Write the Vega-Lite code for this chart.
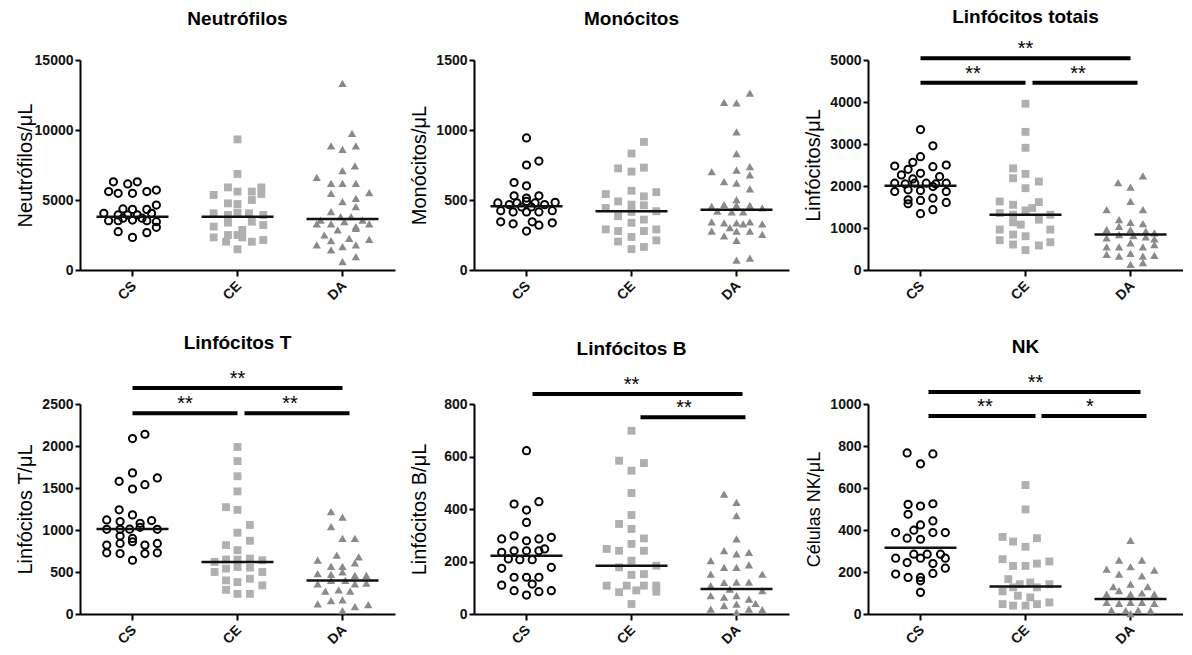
{
"$schema":"https://vega.github.io/schema/vega-lite/v6.json",
"background":"white",
"padding":{"left":15,"top":8,"right":0,"bottom":0},
"config":{
 "view":{"stroke":null},
 "font":"Liberation Sans",
 "axis":{"domainColor":"#000","domainWidth":2,"tickColor":"#000","tickWidth":2,"tickSize":5,"labelFont":"Liberation Sans","labelFontWeight":"bold","labelFontSize":14,"labelColor":"#111","titleFont":"Liberation Sans","titleFontWeight":"normal","titleFontSize":20,"titleColor":"#000","grid":false},
 "axisY":{"minExtent":39,"maxExtent":39,"titlePadding":6,"labelPadding":2},
 "axisX":{"tickSize":6},
 "title":{"fontSize":19,"fontWeight":"bold","font":"Liberation Sans","anchor":"middle","color":"#000"}
},
"datasets":{
"pts":[
{"panel":"N","group":"CS","slot":-2,"value":6300},{"panel":"N","group":"CS","slot":-0.5,"value":6150},{"panel":"N","group":"CS","slot":0.5,"value":6300},{"panel":"N","group":"CS","slot":-2.5,"value":5600},{"panel":"N","group":"CS","slot":-1.5,"value":5480},{"panel":"N","group":"CS","slot":0,"value":5480},{"panel":"N","group":"CS","slot":1.5,"value":5600},{"panel":"N","group":"CS","slot":2.5,"value":5710},{"panel":"N","group":"CS","slot":2.5,"value":4640},{"panel":"N","group":"CS","slot":-1,"value":4360},{"panel":"N","group":"CS","slot":0,"value":4330},{"panel":"N","group":"CS","slot":1.5,"value":4330},{"panel":"N","group":"CS","slot":-3,"value":4050},{"panel":"N","group":"CS","slot":-1.5,"value":3930},{"panel":"N","group":"CS","slot":-0.5,"value":3930},{"panel":"N","group":"CS","slot":0.5,"value":3930},{"panel":"N","group":"CS","slot":2,"value":4050},{"panel":"N","group":"CS","slot":-2.5,"value":3520},{"panel":"N","group":"CS","slot":-1.5,"value":3520},{"panel":"N","group":"CS","slot":0,"value":3570},{"panel":"N","group":"CS","slot":1.5,"value":3520},{"panel":"N","group":"CS","slot":2.5,"value":3450},{"panel":"N","group":"CS","slot":2.5,"value":3050},{"panel":"N","group":"CS","slot":-1.5,"value":2740},{"panel":"N","group":"CS","slot":1.5,"value":2670},{"panel":"N","group":"CS","slot":0,"value":2330},{"panel":"N","group":"CS","slot":-1,"value":3700},{"panel":"N","group":"CS","slot":1,"value":3700},
{"panel":"N","group":"CE","slot":0,"value":9330},{"panel":"N","group":"CE","slot":0,"value":6860},{"panel":"N","group":"CE","slot":-2.5,"value":5360},{"panel":"N","group":"CE","slot":-1,"value":5900},{"panel":"N","group":"CE","slot":0,"value":5600},{"panel":"N","group":"CE","slot":1.5,"value":5600},{"panel":"N","group":"CE","slot":2.5,"value":5900},{"panel":"N","group":"CE","slot":2.5,"value":5430},{"panel":"N","group":"CE","slot":-1,"value":4760},{"panel":"N","group":"CE","slot":0,"value":4710},{"panel":"N","group":"CE","slot":1.5,"value":5000},{"panel":"N","group":"CE","slot":-2.5,"value":4050},{"panel":"N","group":"CE","slot":-1,"value":3930},{"panel":"N","group":"CE","slot":0,"value":4100},{"panel":"N","group":"CE","slot":1.2,"value":4050},{"panel":"N","group":"CE","slot":2.7,"value":3930},{"panel":"N","group":"CE","slot":-2.5,"value":3100},{"panel":"N","group":"CE","slot":-1,"value":3380},{"panel":"N","group":"CE","slot":0.5,"value":2860},{"panel":"N","group":"CE","slot":1.5,"value":3450},{"panel":"N","group":"CE","slot":2.7,"value":3210},{"panel":"N","group":"CE","slot":-2.5,"value":2330},{"panel":"N","group":"CE","slot":-1,"value":2500},{"panel":"N","group":"CE","slot":0,"value":2500},{"panel":"N","group":"CE","slot":0.5,"value":2330},{"panel":"N","group":"CE","slot":2.7,"value":2140},{"panel":"N","group":"CE","slot":1.5,"value":2020},{"panel":"N","group":"CE","slot":-1.2,"value":2020},{"panel":"N","group":"CE","slot":0,"value":1480},
{"panel":"N","group":"DA","slot":0,"value":13330},{"panel":"N","group":"DA","slot":1,"value":9760},{"panel":"N","group":"DA","slot":-1.2,"value":8860},{"panel":"N","group":"DA","slot":0,"value":8620},{"panel":"N","group":"DA","slot":1.4,"value":8860},{"panel":"N","group":"DA","slot":1.3,"value":7430},{"panel":"N","group":"DA","slot":0,"value":7100},{"panel":"N","group":"DA","slot":-2.7,"value":6620},{"panel":"N","group":"DA","slot":-1.2,"value":6190},{"panel":"N","group":"DA","slot":0,"value":6190},{"panel":"N","group":"DA","slot":1.4,"value":6190},{"panel":"N","group":"DA","slot":2.8,"value":5520},{"panel":"N","group":"DA","slot":-1.2,"value":5480},{"panel":"N","group":"DA","slot":0,"value":4880},{"panel":"N","group":"DA","slot":1.4,"value":5120},{"panel":"N","group":"DA","slot":-1.2,"value":4170},{"panel":"N","group":"DA","slot":1.4,"value":4520},{"panel":"N","group":"DA","slot":-2.3,"value":3570},{"panel":"N","group":"DA","slot":-0.2,"value":3810},{"panel":"N","group":"DA","slot":0.9,"value":3810},{"panel":"N","group":"DA","slot":2.1,"value":3570},{"panel":"N","group":"DA","slot":-2.7,"value":3290},{"panel":"N","group":"DA","slot":-1.2,"value":3290},{"panel":"N","group":"DA","slot":0.2,"value":3450},{"panel":"N","group":"DA","slot":1.4,"value":3100},{"panel":"N","group":"DA","slot":2.8,"value":3290},{"panel":"N","group":"DA","slot":-1.9,"value":2500},{"panel":"N","group":"DA","slot":-0.5,"value":2860},{"panel":"N","group":"DA","slot":1.4,"value":2980},{"panel":"N","group":"DA","slot":-1.2,"value":2100},{"panel":"N","group":"DA","slot":0.7,"value":2260},{"panel":"N","group":"DA","slot":2.8,"value":2190},{"panel":"N","group":"DA","slot":-2.7,"value":1790},{"panel":"N","group":"DA","slot":-1.2,"value":1430},{"panel":"N","group":"DA","slot":0,"value":1670},{"panel":"N","group":"DA","slot":1.4,"value":1790},{"panel":"N","group":"DA","slot":1.4,"value":950},{"panel":"N","group":"DA","slot":0,"value":600},
{"panel":"M","group":"CS","slot":0,"value":943},{"panel":"M","group":"CS","slot":0,"value":750},{"panel":"M","group":"CS","slot":1.3,"value":778},{"panel":"M","group":"CS","slot":-1.3,"value":625},{"panel":"M","group":"CS","slot":0,"value":601},{"panel":"M","group":"CS","slot":-1.3,"value":530},{"panel":"M","group":"CS","slot":0,"value":514},{"panel":"M","group":"CS","slot":1.3,"value":530},{"panel":"M","group":"CS","slot":-3,"value":479},{"panel":"M","group":"CS","slot":-1.8,"value":467},{"panel":"M","group":"CS","slot":-1,"value":479},{"panel":"M","group":"CS","slot":0,"value":490},{"panel":"M","group":"CS","slot":0.9,"value":479},{"panel":"M","group":"CS","slot":1.9,"value":467},{"panel":"M","group":"CS","slot":3,"value":483},{"panel":"M","group":"CS","slot":-2.7,"value":424},{"panel":"M","group":"CS","slot":-1.4,"value":415},{"panel":"M","group":"CS","slot":0,"value":415},{"panel":"M","group":"CS","slot":1.3,"value":415},{"panel":"M","group":"CS","slot":2.7,"value":424},{"panel":"M","group":"CS","slot":-2.7,"value":344},{"panel":"M","group":"CS","slot":-1.4,"value":330},{"panel":"M","group":"CS","slot":0.6,"value":344},{"panel":"M","group":"CS","slot":1.3,"value":320},{"panel":"M","group":"CS","slot":2.7,"value":337},{"panel":"M","group":"CS","slot":0,"value":278},{"panel":"M","group":"CS","slot":-0.5,"value":450},{"panel":"M","group":"CS","slot":0.5,"value":450},
{"panel":"M","group":"CE","slot":1.3,"value":915},{"panel":"M","group":"CE","slot":0,"value":832},{"panel":"M","group":"CE","slot":-1.4,"value":726},{"panel":"M","group":"CE","slot":0,"value":703},{"panel":"M","group":"CE","slot":1.3,"value":731},{"panel":"M","group":"CE","slot":0,"value":566},{"panel":"M","group":"CE","slot":-2.7,"value":542},{"panel":"M","group":"CE","slot":1.3,"value":526},{"panel":"M","group":"CE","slot":2.6,"value":556},{"panel":"M","group":"CE","slot":-1.4,"value":490},{"panel":"M","group":"CE","slot":0,"value":467},{"panel":"M","group":"CE","slot":-2.7,"value":443},{"panel":"M","group":"CE","slot":1.3,"value":462},{"panel":"M","group":"CE","slot":2.6,"value":420},{"panel":"M","group":"CE","slot":-1.4,"value":384},{"panel":"M","group":"CE","slot":0,"value":415},{"panel":"M","group":"CE","slot":1.3,"value":360},{"panel":"M","group":"CE","slot":-2.7,"value":290},{"panel":"M","group":"CE","slot":-1.4,"value":278},{"panel":"M","group":"CE","slot":0,"value":337},{"panel":"M","group":"CE","slot":2.6,"value":290},{"panel":"M","group":"CE","slot":1.3,"value":278},{"panel":"M","group":"CE","slot":-1.4,"value":203},{"panel":"M","group":"CE","slot":0,"value":236},{"panel":"M","group":"CE","slot":2.6,"value":212},{"panel":"M","group":"CE","slot":1.3,"value":165},{"panel":"M","group":"CE","slot":0,"value":149},
{"panel":"M","group":"DA","slot":1.4,"value":1264},{"panel":"M","group":"DA","slot":-1.3,"value":1198},{"panel":"M","group":"DA","slot":0,"value":1193},{"panel":"M","group":"DA","slot":0,"value":986},{"panel":"M","group":"DA","slot":0,"value":832},{"panel":"M","group":"DA","slot":1.4,"value":738},{"panel":"M","group":"DA","slot":0,"value":714},{"panel":"M","group":"DA","slot":-2.6,"value":703},{"panel":"M","group":"DA","slot":-1.3,"value":632},{"panel":"M","group":"DA","slot":0,"value":620},{"panel":"M","group":"DA","slot":1.4,"value":679},{"panel":"M","group":"DA","slot":1.4,"value":580},{"panel":"M","group":"DA","slot":0,"value":502},{"panel":"M","group":"DA","slot":-2.6,"value":455},{"panel":"M","group":"DA","slot":-1.3,"value":467},{"panel":"M","group":"DA","slot":0,"value":462},{"panel":"M","group":"DA","slot":1.4,"value":462},{"panel":"M","group":"DA","slot":2.7,"value":443},{"panel":"M","group":"DA","slot":-2.6,"value":344},{"panel":"M","group":"DA","slot":-1.3,"value":337},{"panel":"M","group":"DA","slot":0,"value":337},{"panel":"M","group":"DA","slot":1.4,"value":344},{"panel":"M","group":"DA","slot":2.7,"value":330},{"panel":"M","group":"DA","slot":-2.6,"value":278},{"panel":"M","group":"DA","slot":-1.3,"value":243},{"panel":"M","group":"DA","slot":0,"value":278},{"panel":"M","group":"DA","slot":1.4,"value":278},{"panel":"M","group":"DA","slot":2.7,"value":255},{"panel":"M","group":"DA","slot":-2,"value":420},{"panel":"M","group":"DA","slot":-0.5,"value":415},{"panel":"M","group":"DA","slot":0.7,"value":415},{"panel":"M","group":"DA","slot":-0.7,"value":302},{"panel":"M","group":"DA","slot":0.7,"value":330},{"panel":"M","group":"DA","slot":0,"value":212},{"panel":"M","group":"DA","slot":0,"value":71},{"panel":"M","group":"DA","slot":1.4,"value":85},
{"panel":"LT","group":"CS","slot":0,"value":3344},{"panel":"LT","group":"CS","slot":1.3,"value":2957},{"panel":"LT","group":"CS","slot":0,"value":2697},{"panel":"LT","group":"CS","slot":-0.8,"value":2563},{"panel":"LT","group":"CS","slot":-2.7,"value":2476},{"panel":"LT","group":"CS","slot":-1.3,"value":2397},{"panel":"LT","group":"CS","slot":2.7,"value":2500},{"panel":"LT","group":"CS","slot":1.3,"value":2460},{"panel":"LT","group":"CS","slot":-2,"value":2263},{"panel":"LT","group":"CS","slot":0,"value":2303},{"panel":"LT","group":"CS","slot":2,"value":2224},{"panel":"LT","group":"CS","slot":-0.8,"value":2169},{"panel":"LT","group":"CS","slot":-2.7,"value":2066},{"panel":"LT","group":"CS","slot":-1.6,"value":2050},{"panel":"LT","group":"CS","slot":-0.6,"value":2066},{"panel":"LT","group":"CS","slot":0.6,"value":2066},{"panel":"LT","group":"CS","slot":1.6,"value":2050},{"panel":"LT","group":"CS","slot":2.7,"value":2066},{"panel":"LT","group":"CS","slot":-2.7,"value":1869},{"panel":"LT","group":"CS","slot":-1.3,"value":1908},{"panel":"LT","group":"CS","slot":0,"value":1893},{"panel":"LT","group":"CS","slot":1.3,"value":1987},{"panel":"LT","group":"CS","slot":2.7,"value":1869},{"panel":"LT","group":"CS","slot":-1.3,"value":1672},{"panel":"LT","group":"CS","slot":0,"value":1656},{"panel":"LT","group":"CS","slot":1.3,"value":1711},{"panel":"LT","group":"CS","slot":-1.3,"value":1577},{"panel":"LT","group":"CS","slot":2.7,"value":1609},{"panel":"LT","group":"CS","slot":1.3,"value":1435},{"panel":"LT","group":"CS","slot":0,"value":1341},
{"panel":"LT","group":"CE","slot":0,"value":3959},{"panel":"LT","group":"CE","slot":0,"value":3289},{"panel":"LT","group":"CE","slot":0,"value":2910},{"panel":"LT","group":"CE","slot":-1.3,"value":2421},{"panel":"LT","group":"CE","slot":-1.3,"value":2184},{"panel":"LT","group":"CE","slot":0,"value":2287},{"panel":"LT","group":"CE","slot":1.4,"value":2106},{"panel":"LT","group":"CE","slot":0,"value":1948},{"panel":"LT","group":"CE","slot":-2.7,"value":1632},{"panel":"LT","group":"CE","slot":-1.3,"value":1553},{"panel":"LT","group":"CE","slot":1.4,"value":1617},{"panel":"LT","group":"CE","slot":-2.7,"value":1356},{"panel":"LT","group":"CE","slot":-1.3,"value":1317},{"panel":"LT","group":"CE","slot":0,"value":1419},{"panel":"LT","group":"CE","slot":0.7,"value":1475},{"panel":"LT","group":"CE","slot":2.6,"value":1317},{"panel":"LT","group":"CE","slot":-2.7,"value":962},{"panel":"LT","group":"CE","slot":-1.3,"value":1135},{"panel":"LT","group":"CE","slot":-0.5,"value":1080},{"panel":"LT","group":"CE","slot":1.4,"value":1198},{"panel":"LT","group":"CE","slot":2.6,"value":962},{"panel":"LT","group":"CE","slot":-2.7,"value":710},{"panel":"LT","group":"CE","slot":-1.3,"value":844},{"panel":"LT","group":"CE","slot":0,"value":804},{"panel":"LT","group":"CE","slot":1.4,"value":584},{"panel":"LT","group":"CE","slot":2.6,"value":662},{"panel":"LT","group":"CE","slot":-1.3,"value":607},{"panel":"LT","group":"CE","slot":0,"value":473},
{"panel":"LT","group":"DA","slot":1.3,"value":2240},{"panel":"LT","group":"DA","slot":-1.3,"value":2082},{"panel":"LT","group":"DA","slot":0,"value":1972},{"panel":"LT","group":"DA","slot":0,"value":1632},{"panel":"LT","group":"DA","slot":-2.5,"value":1435},{"panel":"LT","group":"DA","slot":1.3,"value":1435},{"panel":"LT","group":"DA","slot":-1.2,"value":1199},{"panel":"LT","group":"DA","slot":0,"value":1136},{"panel":"LT","group":"DA","slot":1.3,"value":1104},{"panel":"LT","group":"DA","slot":-2.5,"value":962},{"panel":"LT","group":"DA","slot":-1.2,"value":1041},{"panel":"LT","group":"DA","slot":0,"value":962},{"panel":"LT","group":"DA","slot":1.6,"value":923},{"panel":"LT","group":"DA","slot":2.5,"value":883},{"panel":"LT","group":"DA","slot":-2.5,"value":765},{"panel":"LT","group":"DA","slot":-1.2,"value":844},{"panel":"LT","group":"DA","slot":0.3,"value":820},{"panel":"LT","group":"DA","slot":1.6,"value":789},{"panel":"LT","group":"DA","slot":2.5,"value":741},{"panel":"LT","group":"DA","slot":-2.5,"value":552},{"panel":"LT","group":"DA","slot":-1.2,"value":552},{"panel":"LT","group":"DA","slot":0,"value":647},{"panel":"LT","group":"DA","slot":1.3,"value":552},{"panel":"LT","group":"DA","slot":2.5,"value":607},{"panel":"LT","group":"DA","slot":-2.5,"value":371},{"panel":"LT","group":"DA","slot":-1.2,"value":331},{"panel":"LT","group":"DA","slot":0,"value":394},{"panel":"LT","group":"DA","slot":1.3,"value":331},{"panel":"LT","group":"DA","slot":2.5,"value":347},{"panel":"LT","group":"DA","slot":0,"value":134},{"panel":"LT","group":"DA","slot":1.3,"value":173},
{"panel":"T","group":"CS","slot":0,"value":2088},{"panel":"T","group":"CS","slot":1.3,"value":2140},{"panel":"T","group":"CS","slot":0,"value":1680},{"panel":"T","group":"CS","slot":-1.4,"value":1580},{"panel":"T","group":"CS","slot":1.3,"value":1540},{"panel":"T","group":"CS","slot":0,"value":1488},{"panel":"T","group":"CS","slot":2.6,"value":1620},{"panel":"T","group":"CS","slot":-1.4,"value":1240},{"panel":"T","group":"CS","slot":0,"value":1180},{"panel":"T","group":"CS","slot":-2.7,"value":1120},{"panel":"T","group":"CS","slot":-1.3,"value":1100},{"panel":"T","group":"CS","slot":0.8,"value":1080},{"panel":"T","group":"CS","slot":2,"value":1112},{"panel":"T","group":"CS","slot":-2.7,"value":1008},{"panel":"T","group":"CS","slot":-1.3,"value":1008},{"panel":"T","group":"CS","slot":0.8,"value":1032},{"panel":"T","group":"CS","slot":2.6,"value":1008},{"panel":"T","group":"CS","slot":-0.3,"value":1010},{"panel":"T","group":"CS","slot":-2.7,"value":820},{"panel":"T","group":"CS","slot":-1.3,"value":840},{"panel":"T","group":"CS","slot":0,"value":860},{"panel":"T","group":"CS","slot":1.3,"value":820},{"panel":"T","group":"CS","slot":2.6,"value":840},{"panel":"T","group":"CS","slot":-1.3,"value":928},{"panel":"T","group":"CS","slot":0,"value":900},{"panel":"T","group":"CS","slot":-2.7,"value":728},{"panel":"T","group":"CS","slot":-1.3,"value":720},{"panel":"T","group":"CS","slot":1.3,"value":720},{"panel":"T","group":"CS","slot":2.6,"value":728},{"panel":"T","group":"CS","slot":0,"value":640},
{"panel":"T","group":"CE","slot":0,"value":1988},{"panel":"T","group":"CE","slot":0,"value":1820},{"panel":"T","group":"CE","slot":0,"value":1640},{"panel":"T","group":"CE","slot":0,"value":1460},{"panel":"T","group":"CE","slot":-1.2,"value":1272},{"panel":"T","group":"CE","slot":0,"value":1240},{"panel":"T","group":"CE","slot":0,"value":968},{"panel":"T","group":"CE","slot":1.3,"value":1060},{"panel":"T","group":"CE","slot":-1.2,"value":820},{"panel":"T","group":"CE","slot":0,"value":760},{"panel":"T","group":"CE","slot":1.3,"value":872},{"panel":"T","group":"CE","slot":-2.4,"value":620},{"panel":"T","group":"CE","slot":-1.2,"value":648},{"panel":"T","group":"CE","slot":0,"value":648},{"panel":"T","group":"CE","slot":1.3,"value":660},{"panel":"T","group":"CE","slot":2.6,"value":640},{"panel":"T","group":"CE","slot":-2.4,"value":500},{"panel":"T","group":"CE","slot":-1.2,"value":540},{"panel":"T","group":"CE","slot":1.3,"value":552},{"panel":"T","group":"CE","slot":2.6,"value":500},{"panel":"T","group":"CE","slot":-1.2,"value":400},{"panel":"T","group":"CE","slot":0,"value":380},{"panel":"T","group":"CE","slot":1.3,"value":420},{"panel":"T","group":"CE","slot":2.6,"value":340},{"panel":"T","group":"CE","slot":-1.2,"value":288},{"panel":"T","group":"CE","slot":0,"value":240},{"panel":"T","group":"CE","slot":1.3,"value":240},{"panel":"T","group":"CE","slot":0,"value":560},
{"panel":"T","group":"DA","slot":-1.2,"value":1220},{"panel":"T","group":"DA","slot":0,"value":1152},{"panel":"T","group":"DA","slot":-1.2,"value":1040},{"panel":"T","group":"DA","slot":0,"value":900},{"panel":"T","group":"DA","slot":1.3,"value":900},{"panel":"T","group":"DA","slot":-0.6,"value":700},{"panel":"T","group":"DA","slot":1.7,"value":680},{"panel":"T","group":"DA","slot":-2.6,"value":640},{"panel":"T","group":"DA","slot":-1.2,"value":568},{"panel":"T","group":"DA","slot":0,"value":568},{"panel":"T","group":"DA","slot":1.3,"value":608},{"panel":"T","group":"DA","slot":-2.6,"value":480},{"panel":"T","group":"DA","slot":-1.2,"value":472},{"panel":"T","group":"DA","slot":1.3,"value":460},{"panel":"T","group":"DA","slot":2.5,"value":460},{"panel":"T","group":"DA","slot":-2.6,"value":360},{"panel":"T","group":"DA","slot":-1.2,"value":400},{"panel":"T","group":"DA","slot":0.3,"value":400},{"panel":"T","group":"DA","slot":1.3,"value":360},{"panel":"T","group":"DA","slot":2.5,"value":368},{"panel":"T","group":"DA","slot":-1.8,"value":272},{"panel":"T","group":"DA","slot":-0.4,"value":288},{"panel":"T","group":"DA","slot":0.8,"value":272},{"panel":"T","group":"DA","slot":-2.6,"value":120},{"panel":"T","group":"DA","slot":-1.2,"value":160},{"panel":"T","group":"DA","slot":0,"value":168},{"panel":"T","group":"DA","slot":1.3,"value":88},{"panel":"T","group":"DA","slot":2.7,"value":112},{"panel":"T","group":"DA","slot":0,"value":40},{"panel":"T","group":"DA","slot":0,"value":500},
{"panel":"B","group":"CS","slot":0,"value":622},{"panel":"B","group":"CS","slot":-1.3,"value":419},{"panel":"B","group":"CS","slot":0,"value":396},{"panel":"B","group":"CS","slot":1.3,"value":428},{"panel":"B","group":"CS","slot":0,"value":349},{"panel":"B","group":"CS","slot":-2.6,"value":286},{"panel":"B","group":"CS","slot":-1.3,"value":298},{"panel":"B","group":"CS","slot":0,"value":279},{"panel":"B","group":"CS","slot":1.3,"value":286},{"panel":"B","group":"CS","slot":2.6,"value":292},{"panel":"B","group":"CS","slot":-2.6,"value":235},{"panel":"B","group":"CS","slot":-1.3,"value":241},{"panel":"B","group":"CS","slot":0,"value":241},{"panel":"B","group":"CS","slot":1.9,"value":248},{"panel":"B","group":"CS","slot":-1.9,"value":210},{"panel":"B","group":"CS","slot":-0.7,"value":207},{"panel":"B","group":"CS","slot":0.6,"value":207},{"panel":"B","group":"CS","slot":2.6,"value":178},{"panel":"B","group":"CS","slot":-2.6,"value":174},{"panel":"B","group":"CS","slot":-2.6,"value":110},{"panel":"B","group":"CS","slot":-1.3,"value":140},{"panel":"B","group":"CS","slot":0,"value":140},{"panel":"B","group":"CS","slot":1.3,"value":140},{"panel":"B","group":"CS","slot":0.6,"value":114},{"panel":"B","group":"CS","slot":-1.3,"value":89},{"panel":"B","group":"CS","slot":0,"value":72},{"panel":"B","group":"CS","slot":1.3,"value":85},{"panel":"B","group":"CS","slot":2.6,"value":89},{"panel":"B","group":"CS","slot":1.3,"value":241},
{"panel":"B","group":"CE","slot":0,"value":698},{"panel":"B","group":"CE","slot":-1.3,"value":584},{"panel":"B","group":"CE","slot":0,"value":546},{"panel":"B","group":"CE","slot":1.3,"value":575},{"panel":"B","group":"CE","slot":0,"value":461},{"panel":"B","group":"CE","slot":0,"value":377},{"panel":"B","group":"CE","slot":-1.3,"value":343},{"panel":"B","group":"CE","slot":0,"value":324},{"panel":"B","group":"CE","slot":-2.6,"value":248},{"panel":"B","group":"CE","slot":-1.3,"value":241},{"panel":"B","group":"CE","slot":0,"value":267},{"panel":"B","group":"CE","slot":1.3,"value":288},{"panel":"B","group":"CE","slot":1.3,"value":241},{"panel":"B","group":"CE","slot":0,"value":203},{"panel":"B","group":"CE","slot":-1.3,"value":178},{"panel":"B","group":"CE","slot":2.6,"value":184},{"panel":"B","group":"CE","slot":0,"value":149},{"panel":"B","group":"CE","slot":1.3,"value":152},{"panel":"B","group":"CE","slot":-2.6,"value":108},{"panel":"B","group":"CE","slot":-1.3,"value":83},{"panel":"B","group":"CE","slot":-0.5,"value":108},{"panel":"B","group":"CE","slot":1.3,"value":108},{"panel":"B","group":"CE","slot":2.6,"value":108},{"panel":"B","group":"CE","slot":2.6,"value":85},{"panel":"B","group":"CE","slot":0,"value":38},{"panel":"B","group":"CE","slot":0.5,"value":90},
{"panel":"B","group":"DA","slot":-1.3,"value":457},{"panel":"B","group":"DA","slot":0,"value":425},{"panel":"B","group":"DA","slot":0,"value":375},{"panel":"B","group":"DA","slot":0,"value":286},{"panel":"B","group":"DA","slot":-1.3,"value":241},{"panel":"B","group":"DA","slot":0,"value":229},{"panel":"B","group":"DA","slot":1.3,"value":235},{"panel":"B","group":"DA","slot":-2.7,"value":203},{"panel":"B","group":"DA","slot":-1.3,"value":178},{"panel":"B","group":"DA","slot":0,"value":178},{"panel":"B","group":"DA","slot":1.3,"value":187},{"panel":"B","group":"DA","slot":-2.7,"value":152},{"panel":"B","group":"DA","slot":2.7,"value":152},{"panel":"B","group":"DA","slot":-2.7,"value":108},{"panel":"B","group":"DA","slot":0,"value":121},{"panel":"B","group":"DA","slot":1.3,"value":121},{"panel":"B","group":"DA","slot":2.7,"value":89},{"panel":"B","group":"DA","slot":-2.7,"value":70},{"panel":"B","group":"DA","slot":-1.3,"value":64},{"panel":"B","group":"DA","slot":0,"value":70},{"panel":"B","group":"DA","slot":1.3,"value":57},{"panel":"B","group":"DA","slot":-2.7,"value":19},{"panel":"B","group":"DA","slot":-1.3,"value":32},{"panel":"B","group":"DA","slot":0,"value":38},{"panel":"B","group":"DA","slot":1.3,"value":19},{"panel":"B","group":"DA","slot":2.7,"value":17},{"panel":"B","group":"DA","slot":0,"value":6},{"panel":"B","group":"DA","slot":-0.7,"value":95},{"panel":"B","group":"DA","slot":-1.3,"value":120},{"panel":"B","group":"DA","slot":2,"value":40},
{"panel":"NK","group":"CS","slot":-1.4,"value":767},{"panel":"NK","group":"CS","slot":1.3,"value":762},{"panel":"NK","group":"CS","slot":0,"value":715},{"panel":"NK","group":"CS","slot":-1.3,"value":522},{"panel":"NK","group":"CS","slot":0,"value":514},{"panel":"NK","group":"CS","slot":1.3,"value":525},{"panel":"NK","group":"CS","slot":-1.3,"value":475},{"panel":"NK","group":"CS","slot":0,"value":424},{"panel":"NK","group":"CS","slot":1.3,"value":443},{"panel":"NK","group":"CS","slot":-2.6,"value":388},{"panel":"NK","group":"CS","slot":-1.4,"value":361},{"panel":"NK","group":"CS","slot":0,"value":356},{"panel":"NK","group":"CS","slot":1.3,"value":388},{"panel":"NK","group":"CS","slot":2.6,"value":388},{"panel":"NK","group":"CS","slot":-0.7,"value":399},{"panel":"NK","group":"CS","slot":-2.6,"value":266},{"panel":"NK","group":"CS","slot":-1.4,"value":245},{"panel":"NK","group":"CS","slot":0,"value":266},{"panel":"NK","group":"CS","slot":1.3,"value":240},{"panel":"NK","group":"CS","slot":2.1,"value":285},{"panel":"NK","group":"CS","slot":2.6,"value":266},{"panel":"NK","group":"CS","slot":-2.6,"value":190},{"panel":"NK","group":"CS","slot":-1.3,"value":174},{"panel":"NK","group":"CS","slot":0,"value":174},{"panel":"NK","group":"CS","slot":1.3,"value":193},{"panel":"NK","group":"CS","slot":2.6,"value":218},{"panel":"NK","group":"CS","slot":0,"value":158},{"panel":"NK","group":"CS","slot":0,"value":103},{"panel":"NK","group":"CS","slot":-0.7,"value":285},{"panel":"NK","group":"CS","slot":0.7,"value":285},
{"panel":"NK","group":"CE","slot":0,"value":614},{"panel":"NK","group":"CE","slot":0,"value":498},{"panel":"NK","group":"CE","slot":-2.4,"value":367},{"panel":"NK","group":"CE","slot":-1.3,"value":345},{"panel":"NK","group":"CE","slot":0,"value":320},{"panel":"NK","group":"CE","slot":1.2,"value":361},{"panel":"NK","group":"CE","slot":-2.4,"value":261},{"panel":"NK","group":"CE","slot":-1.3,"value":229},{"panel":"NK","group":"CE","slot":0,"value":229},{"panel":"NK","group":"CE","slot":1.2,"value":240},{"panel":"NK","group":"CE","slot":2.5,"value":250},{"panel":"NK","group":"CE","slot":-1.8,"value":166},{"panel":"NK","group":"CE","slot":-0.6,"value":142},{"panel":"NK","group":"CE","slot":0.5,"value":150},{"panel":"NK","group":"CE","slot":1.2,"value":127},{"panel":"NK","group":"CE","slot":2.5,"value":142},{"panel":"NK","group":"CE","slot":-2.4,"value":108},{"panel":"NK","group":"CE","slot":-1.3,"value":127},{"panel":"NK","group":"CE","slot":-2.4,"value":47},{"panel":"NK","group":"CE","slot":-1.3,"value":40},{"panel":"NK","group":"CE","slot":0,"value":40},{"panel":"NK","group":"CE","slot":1.2,"value":47},{"panel":"NK","group":"CE","slot":2.5,"value":55},{"panel":"NK","group":"CE","slot":-0.8,"value":87},{"panel":"NK","group":"CE","slot":0.5,"value":79},
{"panel":"NK","group":"DA","slot":0,"value":351},{"panel":"NK","group":"DA","slot":-1.2,"value":256},{"panel":"NK","group":"DA","slot":1.2,"value":256},{"panel":"NK","group":"DA","slot":-2.5,"value":214},{"panel":"NK","group":"DA","slot":0,"value":225},{"panel":"NK","group":"DA","slot":2.5,"value":209},{"panel":"NK","group":"DA","slot":-1.2,"value":190},{"panel":"NK","group":"DA","slot":1.2,"value":182},{"panel":"NK","group":"DA","slot":-1.8,"value":130},{"panel":"NK","group":"DA","slot":0,"value":142},{"panel":"NK","group":"DA","slot":1.8,"value":130},{"panel":"NK","group":"DA","slot":-2.5,"value":95},{"panel":"NK","group":"DA","slot":-1.2,"value":111},{"panel":"NK","group":"DA","slot":2.5,"value":95},{"panel":"NK","group":"DA","slot":-2.5,"value":55},{"panel":"NK","group":"DA","slot":-1.2,"value":51},{"panel":"NK","group":"DA","slot":0,"value":55},{"panel":"NK","group":"DA","slot":1.2,"value":55},{"panel":"NK","group":"DA","slot":2.5,"value":51},{"panel":"NK","group":"DA","slot":-2,"value":19},{"panel":"NK","group":"DA","slot":-0.5,"value":16},{"panel":"NK","group":"DA","slot":0.8,"value":19},{"panel":"NK","group":"DA","slot":2.1,"value":16},{"panel":"NK","group":"DA","slot":0,"value":2},{"panel":"NK","group":"DA","slot":0,"value":95},{"panel":"NK","group":"DA","slot":1.2,"value":100}
],
"med":[
{"panel":"N","group":"CS","value":3810},{"panel":"N","group":"CE","value":3810},{"panel":"N","group":"DA","value":3640},
{"panel":"M","group":"CS","value":455},{"panel":"M","group":"CE","value":420},{"panel":"M","group":"DA","value":430},
{"panel":"LT","group":"CS","value":2003},{"panel":"LT","group":"CE","value":1317},{"panel":"LT","group":"DA","value":844},
{"panel":"T","group":"CS","value":1012},{"panel":"T","group":"CE","value":620},{"panel":"T","group":"DA","value":400},
{"panel":"B","group":"CS","value":222},{"panel":"B","group":"CE","value":184},{"panel":"B","group":"DA","value":95},
{"panel":"NK","group":"CS","value":316},{"panel":"NK","group":"CE","value":131},{"panel":"NK","group":"DA","value":71}
],
"sig":[
{"panel":"LT","level":"top","from":"CS","to":"DA","mid":"CE","value":5040,"label":"**"},
{"panel":"LT","level":"low","from":"CS","to":"CE","mid":"CS","value":4460,"label":"**"},
{"panel":"LT","level":"low","from":"CE","to":"DA","mid":"CE","value":4460,"label":"**"},
{"panel":"T","level":"top","from":"CS","to":"DA","mid":"CE","value":2690,"label":"**"},
{"panel":"T","level":"low","from":"CS","to":"CE","mid":"CS","value":2390,"label":"**"},
{"panel":"T","level":"low","from":"CE","to":"DA","mid":"CE","value":2390,"label":"**"},
{"panel":"B","level":"top","from":"CS","to":"DA","mid":"CE","value":838,"label":"**"},
{"panel":"B","level":"low","from":"CE","to":"DA","mid":"CE","value":750,"label":"**"},
{"panel":"NK","level":"top","from":"CS","to":"DA","mid":"CE","value":1057,"label":"**"},
{"panel":"NK","level":"low","from":"CS","to":"CE","mid":"CS","value":943,"label":"**"},
{"panel":"NK","level":"low","from":"CE","to":"DA","mid":"CE","value":943,"label":"*"}
]
},
"columns":3,
"spacing":{"row":30,"column":14},
"concat":[
{"title":{"text":"Neutrófilos","offset":24},"width":315,"height":210,"layer":[
 {"data":{"name":"pts"},"transform":[{"filter":"datum.panel=='N' && datum.group=='CS'"}],"mark":{"type":"point","shape":"circle","filled":false,"stroke":"#000","strokeWidth":2,"size":52,"opacity":1},
  "encoding":{"x":{"field":"group","type":"nominal","scale":{"domain":["CS","CE","DA"],"paddingInner":0,"paddingOuter":0},"axis":{"title":null,"labels":false}},"xOffset":{"field":"slot","type":"quantitative","scale":{"domain":[-5.5,5.5]}},"y":{"field":"value","type":"quantitative","scale":{"domain":[0,15000],"nice":false},"axis":{"title":"Neutrófilos/μL","values":[0,5000,10000,15000],"format":"d"}}}},
 {"data":{"name":"pts"},"transform":[{"filter":"datum.panel=='N' && datum.group=='CE'"}],"mark":{"type":"point","shape":"square","filled":true,"color":"#b0b0b0","size":62,"opacity":1},
  "encoding":{"x":{"field":"group","type":"nominal","scale":{"domain":["CS","CE","DA"],"paddingInner":0,"paddingOuter":0},"axis":{"title":null,"labels":false}},"xOffset":{"field":"slot","type":"quantitative","scale":{"domain":[-5.5,5.5]}},"y":{"field":"value","type":"quantitative","scale":{"domain":[0,15000],"nice":false},"axis":{"title":"Neutrófilos/μL","values":[0,5000,10000,15000],"format":"d"}}}},
 {"data":{"name":"pts"},"transform":[{"filter":"datum.panel=='N' && datum.group=='DA'"}],"mark":{"type":"point","shape":"triangle-up","filled":true,"color":"#8a8a8a","size":70,"opacity":1},
  "encoding":{"x":{"field":"group","type":"nominal","scale":{"domain":["CS","CE","DA"],"paddingInner":0,"paddingOuter":0},"axis":{"title":null,"labels":false}},"xOffset":{"field":"slot","type":"quantitative","scale":{"domain":[-5.5,5.5]}},"y":{"field":"value","type":"quantitative","scale":{"domain":[0,15000],"nice":false},"axis":{"title":"Neutrófilos/μL","values":[0,5000,10000,15000],"format":"d"}}}},
 {"data":{"name":"med"},"transform":[{"filter":"datum.panel=='N'"}],"mark":{"type":"tick","color":"#111","size":72,"thickness":2.5,"opacity":1},
  "encoding":{"x":{"field":"group","type":"nominal","scale":{"domain":["CS","CE","DA"],"paddingInner":0,"paddingOuter":0},"axis":{"title":null,"labels":false}},"y":{"field":"value","type":"quantitative","scale":{"domain":[0,15000],"nice":false},"axis":{"title":"Neutrófilos/μL","values":[0,5000,10000,15000],"format":"d"}}}},
 {"data":{"name":"med"},"transform":[{"filter":"datum.panel=='N'"}],"mark":{"type":"text","angle":315,"align":"center","baseline":"middle","xOffset":-5,"yOffset":21,"fontSize":14,"fontWeight":"bold","color":"#111"},
  "encoding":{"x":{"field":"group","type":"nominal","scale":{"domain":["CS","CE","DA"],"paddingInner":0,"paddingOuter":0},"axis":{"title":null,"labels":false}},"y":{"datum":0,"type":"quantitative","scale":{"domain":[0,15000],"nice":false},"axis":{"title":"Neutrófilos/μL","values":[0,5000,10000,15000],"format":"d"}},"text":{"field":"group"}}}
]},
{"title":{"text":"Monócitos","offset":24},"width":315,"height":210,"layer":[
 {"data":{"name":"pts"},"transform":[{"filter":"datum.panel=='M' && datum.group=='CS'"}],"mark":{"type":"point","shape":"circle","filled":false,"stroke":"#000","strokeWidth":2,"size":52,"opacity":1},
  "encoding":{"x":{"field":"group","type":"nominal","scale":{"domain":["CS","CE","DA"],"paddingInner":0,"paddingOuter":0},"axis":{"title":null,"labels":false}},"xOffset":{"field":"slot","type":"quantitative","scale":{"domain":[-5.5,5.5]}},"y":{"field":"value","type":"quantitative","scale":{"domain":[0,1500],"nice":false},"axis":{"title":"Monócitos/μL","values":[0,500,1000,1500],"format":"d"}}}},
 {"data":{"name":"pts"},"transform":[{"filter":"datum.panel=='M' && datum.group=='CE'"}],"mark":{"type":"point","shape":"square","filled":true,"color":"#b0b0b0","size":62,"opacity":1},
  "encoding":{"x":{"field":"group","type":"nominal","scale":{"domain":["CS","CE","DA"],"paddingInner":0,"paddingOuter":0},"axis":{"title":null,"labels":false}},"xOffset":{"field":"slot","type":"quantitative","scale":{"domain":[-5.5,5.5]}},"y":{"field":"value","type":"quantitative","scale":{"domain":[0,1500],"nice":false},"axis":{"title":"Monócitos/μL","values":[0,500,1000,1500],"format":"d"}}}},
 {"data":{"name":"pts"},"transform":[{"filter":"datum.panel=='M' && datum.group=='DA'"}],"mark":{"type":"point","shape":"triangle-up","filled":true,"color":"#8a8a8a","size":70,"opacity":1},
  "encoding":{"x":{"field":"group","type":"nominal","scale":{"domain":["CS","CE","DA"],"paddingInner":0,"paddingOuter":0},"axis":{"title":null,"labels":false}},"xOffset":{"field":"slot","type":"quantitative","scale":{"domain":[-5.5,5.5]}},"y":{"field":"value","type":"quantitative","scale":{"domain":[0,1500],"nice":false},"axis":{"title":"Monócitos/μL","values":[0,500,1000,1500],"format":"d"}}}},
 {"data":{"name":"med"},"transform":[{"filter":"datum.panel=='M'"}],"mark":{"type":"tick","color":"#111","size":72,"thickness":2.5,"opacity":1},
  "encoding":{"x":{"field":"group","type":"nominal","scale":{"domain":["CS","CE","DA"],"paddingInner":0,"paddingOuter":0},"axis":{"title":null,"labels":false}},"y":{"field":"value","type":"quantitative","scale":{"domain":[0,1500],"nice":false},"axis":{"title":"Monócitos/μL","values":[0,500,1000,1500],"format":"d"}}}},
 {"data":{"name":"med"},"transform":[{"filter":"datum.panel=='M'"}],"mark":{"type":"text","angle":315,"align":"center","baseline":"middle","xOffset":-5,"yOffset":21,"fontSize":14,"fontWeight":"bold","color":"#111"},
  "encoding":{"x":{"field":"group","type":"nominal","scale":{"domain":["CS","CE","DA"],"paddingInner":0,"paddingOuter":0},"axis":{"title":null,"labels":false}},"y":{"datum":0,"type":"quantitative","scale":{"domain":[0,1500],"nice":false},"axis":{"title":"Monócitos/μL","values":[0,500,1000,1500],"format":"d"}},"text":{"field":"group"}}}
]},
{"title":{"text":"Linfócitos totais","offset":12},"width":315,"height":210,"layer":[
 {"data":{"name":"pts"},"transform":[{"filter":"datum.panel=='LT' && datum.group=='CS'"}],"mark":{"type":"point","shape":"circle","filled":false,"stroke":"#000","strokeWidth":2,"size":52,"opacity":1},
  "encoding":{"x":{"field":"group","type":"nominal","scale":{"domain":["CS","CE","DA"],"paddingInner":0,"paddingOuter":0},"axis":{"title":null,"labels":false}},"xOffset":{"field":"slot","type":"quantitative","scale":{"domain":[-5.5,5.5]}},"y":{"field":"value","type":"quantitative","scale":{"domain":[0,5000],"nice":false},"axis":{"title":"Linfócitos/μL","values":[0,1000,2000,3000,4000,5000],"format":"d"}}}},
 {"data":{"name":"pts"},"transform":[{"filter":"datum.panel=='LT' && datum.group=='CE'"}],"mark":{"type":"point","shape":"square","filled":true,"color":"#b0b0b0","size":62,"opacity":1},
  "encoding":{"x":{"field":"group","type":"nominal","scale":{"domain":["CS","CE","DA"],"paddingInner":0,"paddingOuter":0},"axis":{"title":null,"labels":false}},"xOffset":{"field":"slot","type":"quantitative","scale":{"domain":[-5.5,5.5]}},"y":{"field":"value","type":"quantitative","scale":{"domain":[0,5000],"nice":false},"axis":{"title":"Linfócitos/μL","values":[0,1000,2000,3000,4000,5000],"format":"d"}}}},
 {"data":{"name":"pts"},"transform":[{"filter":"datum.panel=='LT' && datum.group=='DA'"}],"mark":{"type":"point","shape":"triangle-up","filled":true,"color":"#8a8a8a","size":70,"opacity":1},
  "encoding":{"x":{"field":"group","type":"nominal","scale":{"domain":["CS","CE","DA"],"paddingInner":0,"paddingOuter":0},"axis":{"title":null,"labels":false}},"xOffset":{"field":"slot","type":"quantitative","scale":{"domain":[-5.5,5.5]}},"y":{"field":"value","type":"quantitative","scale":{"domain":[0,5000],"nice":false},"axis":{"title":"Linfócitos/μL","values":[0,1000,2000,3000,4000,5000],"format":"d"}}}},
 {"data":{"name":"med"},"transform":[{"filter":"datum.panel=='LT'"}],"mark":{"type":"tick","color":"#111","size":72,"thickness":2.5,"opacity":1},
  "encoding":{"x":{"field":"group","type":"nominal","scale":{"domain":["CS","CE","DA"],"paddingInner":0,"paddingOuter":0},"axis":{"title":null,"labels":false}},"y":{"field":"value","type":"quantitative","scale":{"domain":[0,5000],"nice":false},"axis":{"title":"Linfócitos/μL","values":[0,1000,2000,3000,4000,5000],"format":"d"}}}},
 {"data":{"name":"med"},"transform":[{"filter":"datum.panel=='LT'"}],"mark":{"type":"text","angle":315,"align":"center","baseline":"middle","xOffset":-5,"yOffset":21,"fontSize":14,"fontWeight":"bold","color":"#111"},
  "encoding":{"x":{"field":"group","type":"nominal","scale":{"domain":["CS","CE","DA"],"paddingInner":0,"paddingOuter":0},"axis":{"title":null,"labels":false}},"y":{"datum":0,"type":"quantitative","scale":{"domain":[0,5000],"nice":false},"axis":{"title":"Linfócitos/μL","values":[0,1000,2000,3000,4000,5000],"format":"d"}},"text":{"field":"group"}}},
 {"data":{"name":"sig"},"transform":[{"filter":"datum.panel=='LT' && datum.from!='CE'"}],"mark":{"type":"rule","color":"#000","strokeWidth":4},
  "encoding":{"x":{"field":"from","type":"nominal","bandPosition":0.5,"scale":{"domain":["CS","CE","DA"],"paddingInner":0,"paddingOuter":0},"axis":{"title":null,"labels":false}},"x2":{"field":"to","bandPosition":0.5},"y":{"field":"value","type":"quantitative","scale":{"domain":[0,5000],"nice":false},"axis":{"title":"Linfócitos/μL","values":[0,1000,2000,3000,4000,5000],"format":"d"}}}},
 {"data":{"name":"sig"},"transform":[{"filter":"datum.panel=='LT' && datum.from=='CE'"}],"mark":{"type":"rule","color":"#000","strokeWidth":4,"xOffset":7,"x2Offset":7},
  "encoding":{"x":{"field":"from","type":"nominal","bandPosition":0.5,"scale":{"domain":["CS","CE","DA"],"paddingInner":0,"paddingOuter":0},"axis":{"title":null,"labels":false}},"x2":{"field":"to","bandPosition":0.5},"y":{"field":"value","type":"quantitative","scale":{"domain":[0,5000],"nice":false},"axis":{"title":"Linfócitos/μL","values":[0,1000,2000,3000,4000,5000],"format":"d"}}}},
 {"data":{"name":"sig"},"transform":[{"filter":"datum.panel=='LT' && datum.level=='top'"}],"mark":{"type":"text","fontSize":20,"baseline":"alphabetic","dy":-3,"color":"#000"},
  "encoding":{"x":{"field":"mid","type":"nominal","bandPosition":0.5,"scale":{"domain":["CS","CE","DA"],"paddingInner":0,"paddingOuter":0},"axis":{"title":null,"labels":false}},"y":{"field":"value","type":"quantitative","scale":{"domain":[0,5000],"nice":false},"axis":{"title":"Linfócitos/μL","values":[0,1000,2000,3000,4000,5000],"format":"d"}},"text":{"field":"label"}}},
 {"data":{"name":"sig"},"transform":[{"filter":"datum.panel=='LT' && datum.level=='low'"}],"mark":{"type":"text","fontSize":20,"baseline":"alphabetic","dy":-3,"color":"#000"},
  "encoding":{"x":{"field":"mid","type":"nominal","bandPosition":1,"scale":{"domain":["CS","CE","DA"],"paddingInner":0,"paddingOuter":0},"axis":{"title":null,"labels":false}},"y":{"field":"value","type":"quantitative","scale":{"domain":[0,5000],"nice":false},"axis":{"title":"Linfócitos/μL","values":[0,1000,2000,3000,4000,5000],"format":"d"}},"text":{"field":"label"}}}
]},
{"title":{"text":"Linfócitos T","offset":16},"width":315,"height":210,"layer":[
 {"data":{"name":"pts"},"transform":[{"filter":"datum.panel=='T' && datum.group=='CS'"}],"mark":{"type":"point","shape":"circle","filled":false,"stroke":"#000","strokeWidth":2,"size":52,"opacity":1},
  "encoding":{"x":{"field":"group","type":"nominal","scale":{"domain":["CS","CE","DA"],"paddingInner":0,"paddingOuter":0},"axis":{"title":null,"labels":false}},"xOffset":{"field":"slot","type":"quantitative","scale":{"domain":[-5.5,5.5]}},"y":{"field":"value","type":"quantitative","scale":{"domain":[0,2500],"nice":false},"axis":{"title":"Linfócitos T/μL","values":[0,500,1000,1500,2000,2500],"format":"d"}}}},
 {"data":{"name":"pts"},"transform":[{"filter":"datum.panel=='T' && datum.group=='CE'"}],"mark":{"type":"point","shape":"square","filled":true,"color":"#b0b0b0","size":62,"opacity":1},
  "encoding":{"x":{"field":"group","type":"nominal","scale":{"domain":["CS","CE","DA"],"paddingInner":0,"paddingOuter":0},"axis":{"title":null,"labels":false}},"xOffset":{"field":"slot","type":"quantitative","scale":{"domain":[-5.5,5.5]}},"y":{"field":"value","type":"quantitative","scale":{"domain":[0,2500],"nice":false},"axis":{"title":"Linfócitos T/μL","values":[0,500,1000,1500,2000,2500],"format":"d"}}}},
 {"data":{"name":"pts"},"transform":[{"filter":"datum.panel=='T' && datum.group=='DA'"}],"mark":{"type":"point","shape":"triangle-up","filled":true,"color":"#8a8a8a","size":70,"opacity":1},
  "encoding":{"x":{"field":"group","type":"nominal","scale":{"domain":["CS","CE","DA"],"paddingInner":0,"paddingOuter":0},"axis":{"title":null,"labels":false}},"xOffset":{"field":"slot","type":"quantitative","scale":{"domain":[-5.5,5.5]}},"y":{"field":"value","type":"quantitative","scale":{"domain":[0,2500],"nice":false},"axis":{"title":"Linfócitos T/μL","values":[0,500,1000,1500,2000,2500],"format":"d"}}}},
 {"data":{"name":"med"},"transform":[{"filter":"datum.panel=='T'"}],"mark":{"type":"tick","color":"#111","size":72,"thickness":2.5,"opacity":1},
  "encoding":{"x":{"field":"group","type":"nominal","scale":{"domain":["CS","CE","DA"],"paddingInner":0,"paddingOuter":0},"axis":{"title":null,"labels":false}},"y":{"field":"value","type":"quantitative","scale":{"domain":[0,2500],"nice":false},"axis":{"title":"Linfócitos T/μL","values":[0,500,1000,1500,2000,2500],"format":"d"}}}},
 {"data":{"name":"med"},"transform":[{"filter":"datum.panel=='T'"}],"mark":{"type":"text","angle":315,"align":"center","baseline":"middle","xOffset":-5,"yOffset":21,"fontSize":14,"fontWeight":"bold","color":"#111"},
  "encoding":{"x":{"field":"group","type":"nominal","scale":{"domain":["CS","CE","DA"],"paddingInner":0,"paddingOuter":0},"axis":{"title":null,"labels":false}},"y":{"datum":0,"type":"quantitative","scale":{"domain":[0,2500],"nice":false},"axis":{"title":"Linfócitos T/μL","values":[0,500,1000,1500,2000,2500],"format":"d"}},"text":{"field":"group"}}},
 {"data":{"name":"sig"},"transform":[{"filter":"datum.panel=='T' && datum.from!='CE'"}],"mark":{"type":"rule","color":"#000","strokeWidth":4},
  "encoding":{"x":{"field":"from","type":"nominal","bandPosition":0.5,"scale":{"domain":["CS","CE","DA"],"paddingInner":0,"paddingOuter":0},"axis":{"title":null,"labels":false}},"x2":{"field":"to","bandPosition":0.5},"y":{"field":"value","type":"quantitative","scale":{"domain":[0,2500],"nice":false},"axis":{"title":"Linfócitos T/μL","values":[0,500,1000,1500,2000,2500],"format":"d"}}}},
 {"data":{"name":"sig"},"transform":[{"filter":"datum.panel=='T' && datum.from=='CE'"}],"mark":{"type":"rule","color":"#000","strokeWidth":4,"xOffset":7,"x2Offset":7},
  "encoding":{"x":{"field":"from","type":"nominal","bandPosition":0.5,"scale":{"domain":["CS","CE","DA"],"paddingInner":0,"paddingOuter":0},"axis":{"title":null,"labels":false}},"x2":{"field":"to","bandPosition":0.5},"y":{"field":"value","type":"quantitative","scale":{"domain":[0,2500],"nice":false},"axis":{"title":"Linfócitos T/μL","values":[0,500,1000,1500,2000,2500],"format":"d"}}}},
 {"data":{"name":"sig"},"transform":[{"filter":"datum.panel=='T' && datum.level=='top'"}],"mark":{"type":"text","fontSize":20,"baseline":"alphabetic","dy":-3,"color":"#000"},
  "encoding":{"x":{"field":"mid","type":"nominal","bandPosition":0.5,"scale":{"domain":["CS","CE","DA"],"paddingInner":0,"paddingOuter":0},"axis":{"title":null,"labels":false}},"y":{"field":"value","type":"quantitative","scale":{"domain":[0,2500],"nice":false},"axis":{"title":"Linfócitos T/μL","values":[0,500,1000,1500,2000,2500],"format":"d"}},"text":{"field":"label"}}},
 {"data":{"name":"sig"},"transform":[{"filter":"datum.panel=='T' && datum.level=='low'"}],"mark":{"type":"text","fontSize":20,"baseline":"alphabetic","dy":-3,"color":"#000"},
  "encoding":{"x":{"field":"mid","type":"nominal","bandPosition":1,"scale":{"domain":["CS","CE","DA"],"paddingInner":0,"paddingOuter":0},"axis":{"title":null,"labels":false}},"y":{"field":"value","type":"quantitative","scale":{"domain":[0,2500],"nice":false},"axis":{"title":"Linfócitos T/μL","values":[0,500,1000,1500,2000,2500],"format":"d"}},"text":{"field":"label"}}}
]},
{"title":{"text":"Linfócitos B","offset":16},"width":315,"height":210,"layer":[
 {"data":{"name":"pts"},"transform":[{"filter":"datum.panel=='B' && datum.group=='CS'"}],"mark":{"type":"point","shape":"circle","filled":false,"stroke":"#000","strokeWidth":2,"size":52,"opacity":1},
  "encoding":{"x":{"field":"group","type":"nominal","scale":{"domain":["CS","CE","DA"],"paddingInner":0,"paddingOuter":0},"axis":{"title":null,"labels":false}},"xOffset":{"field":"slot","type":"quantitative","scale":{"domain":[-5.5,5.5]}},"y":{"field":"value","type":"quantitative","scale":{"domain":[0,800],"nice":false},"axis":{"title":"Linfócitos B/μL","values":[0,200,400,600,800],"format":"d"}}}},
 {"data":{"name":"pts"},"transform":[{"filter":"datum.panel=='B' && datum.group=='CE'"}],"mark":{"type":"point","shape":"square","filled":true,"color":"#b0b0b0","size":62,"opacity":1},
  "encoding":{"x":{"field":"group","type":"nominal","scale":{"domain":["CS","CE","DA"],"paddingInner":0,"paddingOuter":0},"axis":{"title":null,"labels":false}},"xOffset":{"field":"slot","type":"quantitative","scale":{"domain":[-5.5,5.5]}},"y":{"field":"value","type":"quantitative","scale":{"domain":[0,800],"nice":false},"axis":{"title":"Linfócitos B/μL","values":[0,200,400,600,800],"format":"d"}}}},
 {"data":{"name":"pts"},"transform":[{"filter":"datum.panel=='B' && datum.group=='DA'"}],"mark":{"type":"point","shape":"triangle-up","filled":true,"color":"#8a8a8a","size":70,"opacity":1},
  "encoding":{"x":{"field":"group","type":"nominal","scale":{"domain":["CS","CE","DA"],"paddingInner":0,"paddingOuter":0},"axis":{"title":null,"labels":false}},"xOffset":{"field":"slot","type":"quantitative","scale":{"domain":[-5.5,5.5]}},"y":{"field":"value","type":"quantitative","scale":{"domain":[0,800],"nice":false},"axis":{"title":"Linfócitos B/μL","values":[0,200,400,600,800],"format":"d"}}}},
 {"data":{"name":"med"},"transform":[{"filter":"datum.panel=='B'"}],"mark":{"type":"tick","color":"#111","size":72,"thickness":2.5,"opacity":1},
  "encoding":{"x":{"field":"group","type":"nominal","scale":{"domain":["CS","CE","DA"],"paddingInner":0,"paddingOuter":0},"axis":{"title":null,"labels":false}},"y":{"field":"value","type":"quantitative","scale":{"domain":[0,800],"nice":false},"axis":{"title":"Linfócitos B/μL","values":[0,200,400,600,800],"format":"d"}}}},
 {"data":{"name":"med"},"transform":[{"filter":"datum.panel=='B'"}],"mark":{"type":"text","angle":315,"align":"center","baseline":"middle","xOffset":-5,"yOffset":21,"fontSize":14,"fontWeight":"bold","color":"#111"},
  "encoding":{"x":{"field":"group","type":"nominal","scale":{"domain":["CS","CE","DA"],"paddingInner":0,"paddingOuter":0},"axis":{"title":null,"labels":false}},"y":{"datum":0,"type":"quantitative","scale":{"domain":[0,800],"nice":false},"axis":{"title":"Linfócitos B/μL","values":[0,200,400,600,800],"format":"d"}},"text":{"field":"group"}}},
 {"data":{"name":"sig"},"transform":[{"filter":"datum.panel=='B' && datum.from!='CE'"}],"mark":{"type":"rule","color":"#000","strokeWidth":4,"xOffset":6,"x2Offset":6},
  "encoding":{"x":{"field":"from","type":"nominal","bandPosition":0.5,"scale":{"domain":["CS","CE","DA"],"paddingInner":0,"paddingOuter":0},"axis":{"title":null,"labels":false}},"x2":{"field":"to","bandPosition":0.5},"y":{"field":"value","type":"quantitative","scale":{"domain":[0,800],"nice":false},"axis":{"title":"Linfócitos B/μL","values":[0,200,400,600,800],"format":"d"}}}},
 {"data":{"name":"sig"},"transform":[{"filter":"datum.panel=='B' && datum.from=='CE'"}],"mark":{"type":"rule","color":"#000","strokeWidth":4,"xOffset":9,"x2Offset":9},
  "encoding":{"x":{"field":"from","type":"nominal","bandPosition":0.5,"scale":{"domain":["CS","CE","DA"],"paddingInner":0,"paddingOuter":0},"axis":{"title":null,"labels":false}},"x2":{"field":"to","bandPosition":0.5},"y":{"field":"value","type":"quantitative","scale":{"domain":[0,800],"nice":false},"axis":{"title":"Linfócitos B/μL","values":[0,200,400,600,800],"format":"d"}}}},
 {"data":{"name":"sig"},"transform":[{"filter":"datum.panel=='B' && datum.level=='top'"}],"mark":{"type":"text","fontSize":20,"baseline":"alphabetic","dy":-3,"color":"#000"},
  "encoding":{"x":{"field":"mid","type":"nominal","bandPosition":0.5,"scale":{"domain":["CS","CE","DA"],"paddingInner":0,"paddingOuter":0},"axis":{"title":null,"labels":false}},"y":{"field":"value","type":"quantitative","scale":{"domain":[0,800],"nice":false},"axis":{"title":"Linfócitos B/μL","values":[0,200,400,600,800],"format":"d"}},"text":{"field":"label"}}},
 {"data":{"name":"sig"},"transform":[{"filter":"datum.panel=='B' && datum.level=='low'"}],"mark":{"type":"text","fontSize":20,"baseline":"alphabetic","dy":-3,"color":"#000"},
  "encoding":{"x":{"field":"mid","type":"nominal","bandPosition":1,"scale":{"domain":["CS","CE","DA"],"paddingInner":0,"paddingOuter":0},"axis":{"title":null,"labels":false}},"y":{"field":"value","type":"quantitative","scale":{"domain":[0,800],"nice":false},"axis":{"title":"Linfócitos B/μL","values":[0,200,400,600,800],"format":"d"}},"text":{"field":"label"}}}
]},
{"title":{"text":"NK","offset":16},"width":315,"height":210,"layer":[
 {"data":{"name":"pts"},"transform":[{"filter":"datum.panel=='NK' && datum.group=='CS'"}],"mark":{"type":"point","shape":"circle","filled":false,"stroke":"#000","strokeWidth":2,"size":52,"opacity":1},
  "encoding":{"x":{"field":"group","type":"nominal","scale":{"domain":["CS","CE","DA"],"paddingInner":0,"paddingOuter":0},"axis":{"title":null,"labels":false}},"xOffset":{"field":"slot","type":"quantitative","scale":{"domain":[-5.5,5.5]}},"y":{"field":"value","type":"quantitative","scale":{"domain":[0,1000],"nice":false},"axis":{"title":"Células NK/μL","titleFontSize":18,"values":[0,200,400,600,800,1000],"format":"d"}}}},
 {"data":{"name":"pts"},"transform":[{"filter":"datum.panel=='NK' && datum.group=='CE'"}],"mark":{"type":"point","shape":"square","filled":true,"color":"#b0b0b0","size":62,"opacity":1},
  "encoding":{"x":{"field":"group","type":"nominal","scale":{"domain":["CS","CE","DA"],"paddingInner":0,"paddingOuter":0},"axis":{"title":null,"labels":false}},"xOffset":{"field":"slot","type":"quantitative","scale":{"domain":[-5.5,5.5]}},"y":{"field":"value","type":"quantitative","scale":{"domain":[0,1000],"nice":false},"axis":{"title":"Células NK/μL","titleFontSize":18,"values":[0,200,400,600,800,1000],"format":"d"}}}},
 {"data":{"name":"pts"},"transform":[{"filter":"datum.panel=='NK' && datum.group=='DA'"}],"mark":{"type":"point","shape":"triangle-up","filled":true,"color":"#8a8a8a","size":70,"opacity":1},
  "encoding":{"x":{"field":"group","type":"nominal","scale":{"domain":["CS","CE","DA"],"paddingInner":0,"paddingOuter":0},"axis":{"title":null,"labels":false}},"xOffset":{"field":"slot","type":"quantitative","scale":{"domain":[-5.5,5.5]}},"y":{"field":"value","type":"quantitative","scale":{"domain":[0,1000],"nice":false},"axis":{"title":"Células NK/μL","titleFontSize":18,"values":[0,200,400,600,800,1000],"format":"d"}}}},
 {"data":{"name":"med"},"transform":[{"filter":"datum.panel=='NK'"}],"mark":{"type":"tick","color":"#111","size":72,"thickness":2.5,"opacity":1},
  "encoding":{"x":{"field":"group","type":"nominal","scale":{"domain":["CS","CE","DA"],"paddingInner":0,"paddingOuter":0},"axis":{"title":null,"labels":false}},"y":{"field":"value","type":"quantitative","scale":{"domain":[0,1000],"nice":false},"axis":{"title":"Células NK/μL","titleFontSize":18,"values":[0,200,400,600,800,1000],"format":"d"}}}},
 {"data":{"name":"med"},"transform":[{"filter":"datum.panel=='NK'"}],"mark":{"type":"text","angle":315,"align":"center","baseline":"middle","xOffset":-5,"yOffset":21,"fontSize":14,"fontWeight":"bold","color":"#111"},
  "encoding":{"x":{"field":"group","type":"nominal","scale":{"domain":["CS","CE","DA"],"paddingInner":0,"paddingOuter":0},"axis":{"title":null,"labels":false}},"y":{"datum":0,"type":"quantitative","scale":{"domain":[0,1000],"nice":false},"axis":{"title":"Células NK/μL","titleFontSize":18,"values":[0,200,400,600,800,1000],"format":"d"}},"text":{"field":"group"}}},
 {"data":{"name":"sig"},"transform":[{"filter":"datum.panel=='NK' && datum.from!='CE'"}],"mark":{"type":"rule","color":"#000","strokeWidth":4,"xOffset":8,"x2Offset":10},
  "encoding":{"x":{"field":"from","type":"nominal","bandPosition":0.5,"scale":{"domain":["CS","CE","DA"],"paddingInner":0,"paddingOuter":0},"axis":{"title":null,"labels":false}},"x2":{"field":"to","bandPosition":0.5},"y":{"field":"value","type":"quantitative","scale":{"domain":[0,1000],"nice":false},"axis":{"title":"Células NK/μL","titleFontSize":18,"values":[0,200,400,600,800,1000],"format":"d"}}}},
 {"data":{"name":"sig"},"transform":[{"filter":"datum.panel=='NK' && datum.from=='CE'"}],"mark":{"type":"rule","color":"#000","strokeWidth":4,"xOffset":16,"x2Offset":16},
  "encoding":{"x":{"field":"from","type":"nominal","bandPosition":0.5,"scale":{"domain":["CS","CE","DA"],"paddingInner":0,"paddingOuter":0},"axis":{"title":null,"labels":false}},"x2":{"field":"to","bandPosition":0.5},"y":{"field":"value","type":"quantitative","scale":{"domain":[0,1000],"nice":false},"axis":{"title":"Células NK/μL","titleFontSize":18,"values":[0,200,400,600,800,1000],"format":"d"}}}},
 {"data":{"name":"sig"},"transform":[{"filter":"datum.panel=='NK' && datum.level=='top'"}],"mark":{"type":"text","fontSize":20,"baseline":"alphabetic","dy":-3,"dx":10,"color":"#000"},
  "encoding":{"x":{"field":"mid","type":"nominal","bandPosition":0.5,"scale":{"domain":["CS","CE","DA"],"paddingInner":0,"paddingOuter":0},"axis":{"title":null,"labels":false}},"y":{"field":"value","type":"quantitative","scale":{"domain":[0,1000],"nice":false},"axis":{"title":"Células NK/μL","titleFontSize":18,"values":[0,200,400,600,800,1000],"format":"d"}},"text":{"field":"label"}}},
 {"data":{"name":"sig"},"transform":[{"filter":"datum.panel=='NK' && datum.level=='low'"}],"mark":{"type":"text","fontSize":20,"baseline":"alphabetic","dy":-3,"dx":12,"color":"#000"},
  "encoding":{"x":{"field":"mid","type":"nominal","bandPosition":1,"scale":{"domain":["CS","CE","DA"],"paddingInner":0,"paddingOuter":0},"axis":{"title":null,"labels":false}},"y":{"field":"value","type":"quantitative","scale":{"domain":[0,1000],"nice":false},"axis":{"title":"Células NK/μL","titleFontSize":18,"values":[0,200,400,600,800,1000],"format":"d"}},"text":{"field":"label"}}}
]}
]
}
